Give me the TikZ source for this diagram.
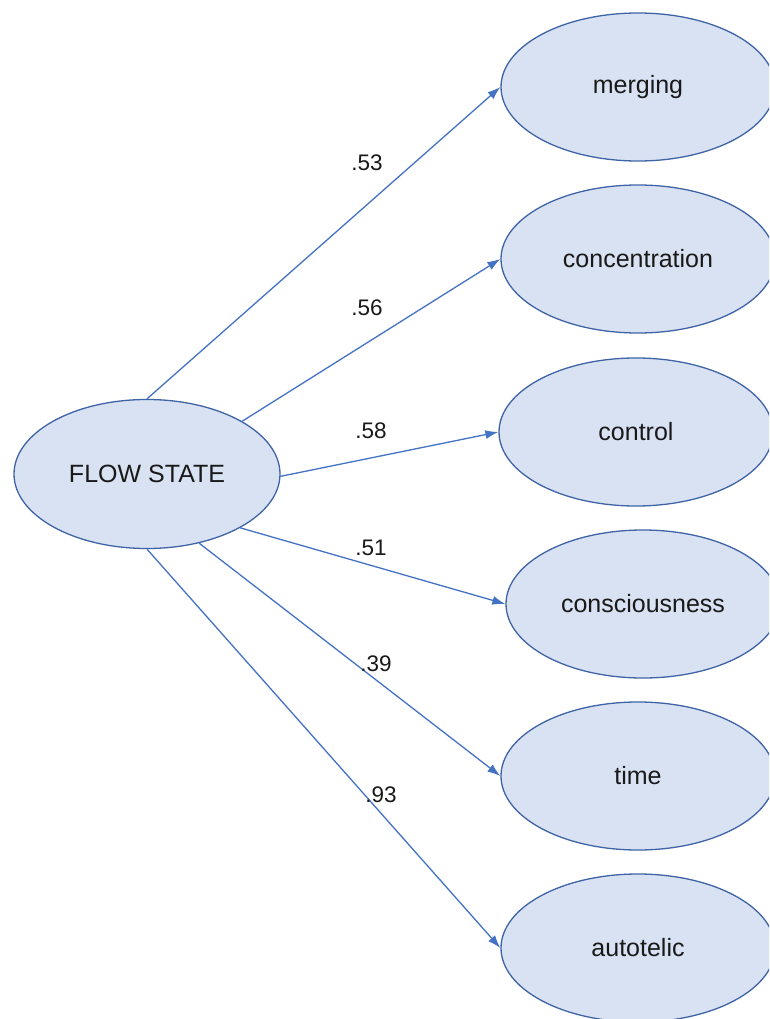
\documentclass[tikz,border=0pt]{standalone}
\usepackage{fontspec}
\setmainfont{Liberation Sans}
\usetikzlibrary{arrows.meta,shapes.geometric}
\definecolor{efill}{HTML}{D9E2F2}
\definecolor{edraw}{HTML}{3E63A6}
\definecolor{arr}{HTML}{4472C4}
\tikzset{
  latent/.style={ellipse, draw=edraw, fill=efill, line width=1.3pt, inner sep=0pt,
    minimum width=274pt, minimum height=148pt, font=\fontsize{25}{28}\selectfont, text=black!90},
  path/.style={draw=arr, line width=1.3pt, -{Latex[length=13pt,width=9pt]}},
  coef/.style={font=\fontsize{22.5}{26}\selectfont, text=black!90, inner sep=0pt}
}
\begin{document}
\begin{tikzpicture}[x=1pt,y=-1pt]
\useasboundingbox (0,0) rectangle (769,1019);
\clip (0,0) rectangle (769,1019);
\fill[white] (0,0) rectangle (769,1019);
\node[latent, minimum width=266pt, minimum height=149pt] (fs) at (147,474) {FLOW STATE};
\node[latent] (m) at (638,87) {merging};
\node[latent] (c1) at (638,259) {concentration};
\node[latent] (c2) at (636,432) {control};
\node[latent] (c3) at (643,604) {consciousness};
\node[latent] (t) at (638,776) {time};
\node[latent] (a) at (638,948) {autotelic};
\draw[path] (fs.90) -- (m.west);
\draw[path] (fs.29) -- (c1.west);
\draw[path] (fs.-1) -- (c2.west);
\draw[path] (fs.-30) -- (c3.west);
\draw[path] (fs.-53) -- (t.west);
\draw[path] (fs.-90) -- (a.west);
\node[coef] (l1) at (367,163) {.53};
\node[coef] (l2) at (367,308) {.56};
\node[coef] (l3) at (371,431) {.58};
\node[coef] (l4) at (371,548) {.51};
\node[coef] (l5) at (376,664) {.39};
\node[coef] (l6) at (381,795) {.93};
\end{tikzpicture}
\end{document}
